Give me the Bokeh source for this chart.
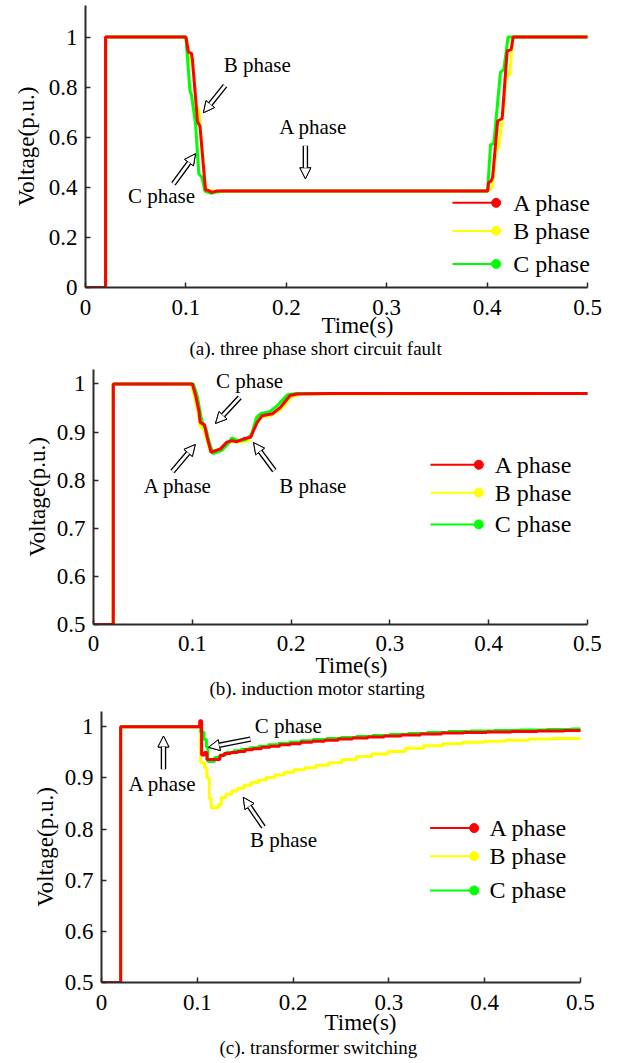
from bokeh.plotting import figure
from bokeh.layouts import column, row
from bokeh.models import Label, Arrow, NormalHead, FixedTicker, Range1d, Title, Spacer
from bokeh.embed import file_html
from bokeh.resources import INLINE

# ---------------- data ----------------
phase_names = ["A phase", "B phase", "C phase"]
x_ticks = [0, 0.1, 0.2, 0.3, 0.4, 0.5]
x_tick_labels = ["0", "0.1", "0.2", "0.3", "0.4", "0.5"]
ya_ticks = [0, 0.2, 0.4, 0.6, 0.8, 1.0]
ya_tick_labels = ["0", "0.2", "0.4", "0.6", "0.8", "1"]
ybc_ticks = [0.5, 0.6, 0.7, 0.8, 0.9, 1.0]
ybc_tick_labels = ["0.5", "0.6", "0.7", "0.8", "0.9", "1"]
captions = ["(a). three phase short circuit fault",
            "(b). induction motor starting",
            "(c). transformer switching"]
x_title = "Time(s)"
y_title = "Voltage(p.u.)"

# (a) three phase short circuit fault
ta_A = [0, 0.02, 0.02, 0.1, 0.1025, 0.1055, 0.1065, 0.1115, 0.1125, 0.114, 0.1195, 0.122, 0.126, 0.13, 0.14,
        0.4005, 0.4015, 0.404, 0.4055, 0.4105, 0.415, 0.42, 0.424, 0.426, 0.5]
va_A = [0, 0, 1, 1, 0.94, 0.935, 0.91, 0.665, 0.655, 0.645, 0.39, 0.388, 0.38, 0.385, 0.385,
        0.385, 0.42, 0.425, 0.44, 0.665, 0.675, 0.945, 0.95, 1.0, 1.0]
ta_B = [0, 0.02, 0.02, 0.1, 0.1015, 0.104, 0.107, 0.1105, 0.113, 0.1145, 0.12, 0.125, 0.13, 0.14,
        0.4005, 0.405, 0.409, 0.4115, 0.416, 0.419, 0.4225, 0.4255, 0.5]
va_B = [0, 0, 1, 1, 0.97, 0.92, 0.88, 0.73, 0.70, 0.63, 0.38, 0.39, 0.38, 0.385,
        0.385, 0.40, 0.55, 0.56, 0.70, 0.84, 0.85, 1.0, 1.0]
ta_C = [0, 0.02, 0.02, 0.1, 0.1013, 0.104, 0.1055, 0.1096, 0.1129, 0.116, 0.119, 0.125, 0.135,
        0.4005, 0.4034, 0.4067, 0.4133, 0.4166, 0.4209, 0.5]
va_C = [0, 0, 1, 1, 0.93, 0.786, 0.77, 0.653, 0.453, 0.44, 0.385, 0.376, 0.385,
        0.385, 0.57, 0.575, 0.86, 0.87, 1.0, 1.0]

# (b) induction motor starting
tb_A = [0, 0.02, 0.02, 0.1, 0.103, 0.1066, 0.108, 0.1124, 0.115, 0.119, 0.1285, 0.135, 0.14, 0.145,
        0.152, 0.159, 0.1657, 0.1707, 0.181, 0.189, 0.199, 0.206, 0.24, 0.5]
vb_A = [0.5, 0.5, 1, 1, 0.979, 0.945, 0.92, 0.915, 0.889, 0.858, 0.865, 0.879, 0.882, 0.88,
        0.886, 0.889, 0.92, 0.934, 0.938, 0.951, 0.976, 0.979, 0.98, 0.98]
tb_B = [0, 0.02, 0.02, 0.099, 0.102, 0.106, 0.108, 0.112, 0.118, 0.127, 0.134, 0.14, 0.15, 0.157,
        0.162, 0.168, 0.18, 0.19, 0.2, 0.21, 0.5]
vb_B = [0.5, 0.5, 1, 1, 0.975, 0.94, 0.912, 0.905, 0.86, 0.862, 0.875, 0.88, 0.88, 0.882,
        0.905, 0.93, 0.935, 0.948, 0.973, 0.979, 0.98]
tb_C = [0, 0.02, 0.02, 0.101, 0.105, 0.109, 0.111, 0.114, 0.117, 0.121, 0.13, 0.136, 0.14, 0.146,
        0.154, 0.16, 0.165, 0.169, 0.178, 0.186, 0.196, 0.205, 0.5]
vb_C = [0.5, 0.5, 1, 1, 0.975, 0.93, 0.915, 0.905, 0.88, 0.855, 0.862, 0.875, 0.888, 0.882,
        0.884, 0.895, 0.93, 0.938, 0.942, 0.955, 0.977, 0.98, 0.98]

# (c) transformer switching (sampled, drawn as steps)
tc_A = [0, 0.02, 0.1025, 0.1045, 0.1075, 0.110, 0.1235, 0.128, 0.135, 0.142, 0.150, 0.158, 0.167,
        0.176, 0.186, 0.197, 0.208, 0.220, 0.233, 0.247, 0.262, 0.278, 0.295, 0.313, 0.333, 0.355,
        0.378, 0.402, 0.428, 0.455, 0.483, 0.5]
vc_A = [0.5, 1.0, 1.012, 0.945, 0.950, 0.936, 0.944, 0.948, 0.950, 0.952, 0.955, 0.957, 0.960,
        0.962, 0.965, 0.967, 0.970, 0.972, 0.974, 0.976, 0.978, 0.980, 0.982, 0.984, 0.986, 0.988,
        0.989, 0.990, 0.991, 0.992, 0.993, 0.993]
tc_B = [0, 0.02, 0.1035, 0.1075, 0.110, 0.1125, 0.1145, 0.122, 0.125, 0.130, 0.136, 0.142, 0.149,
        0.156, 0.164, 0.172, 0.181, 0.191, 0.201, 0.212, 0.224, 0.237, 0.251, 0.266, 0.282, 0.299,
        0.317, 0.336, 0.356, 0.377, 0.399, 0.422, 0.446, 0.471, 0.5]
vc_B = [0.5, 1.0, 0.93, 0.92, 0.90, 0.86, 0.842, 0.848, 0.862, 0.868, 0.875, 0.880, 0.886,
        0.891, 0.896, 0.901, 0.906, 0.911, 0.916, 0.920, 0.925, 0.930, 0.936, 0.942, 0.947, 0.952,
        0.958, 0.963, 0.967, 0.970, 0.972, 0.974, 0.976, 0.977, 0.977]
tc_C = [0, 0.02, 0.1035, 0.107, 0.1095, 0.111, 0.118, 0.124, 0.13, 0.138, 0.146, 0.155, 0.164,
        0.174, 0.185, 0.196, 0.208, 0.221, 0.235, 0.25, 0.266, 0.283, 0.301, 0.32, 0.34, 0.362,
        0.385, 0.41, 0.437, 0.465, 0.49, 0.5]
vc_C = [0.5, 1.0, 0.99, 0.975, 0.96, 0.932, 0.94, 0.945, 0.95, 0.953, 0.956, 0.959, 0.962,
        0.965, 0.968, 0.970, 0.973, 0.975, 0.977, 0.979, 0.981, 0.983, 0.985, 0.987, 0.989, 0.991,
        0.992, 0.993, 0.994, 0.995, 0.996, 0.996]

# ---------------- styling / placement ----------------
FONT = "'Liberation Serif'"
COLORS = {"A phase": "#ff0000", "B phase": "#ffff00", "C phase": "#00ff00"}
AXIS_COLOR = "#2b2b2b"
X_DATA_END = 0.5

# in-plot annotations: (text, text_x, text_y, arrow_x0, arrow_y0, arrow_x1, arrow_y1)
ann_a = [("B phase", 0.171, 0.89, 0.139, 0.806, 0.1175, 0.698),
         ("C phase", 0.0757, 0.366, 0.0876, 0.414, 0.1096, 0.534),
         ("A phase", 0.227, 0.642, 0.219, 0.566, 0.219, 0.434)]
ann_b = [("C phase", 0.158, 1.007, 0.148, 0.972, 0.1235, 0.918),
         ("A phase", 0.0855, 0.787, 0.080, 0.818, 0.103, 0.874),
         ("B phase", 0.222, 0.787, 0.183, 0.82, 0.162, 0.878)]
ann_c = [("C phase", 0.195, 1.001, 0.1555, 0.976, 0.1117, 0.960),
         ("A phase", 0.0637, 0.888, 0.0647, 0.917, 0.0647, 0.982),
         ("B phase", 0.19, 0.778, 0.169, 0.804, 0.148, 0.862)]


def label(p, x, y, text, size, align="center"):
    p.add_layout(Label(x=x, y=y, text=text, text_font=FONT, text_font_size=size,
                       text_align=align, text_baseline="middle", text_color="black"))


def below_title(p, text, size, offset, standoff):
    p.add_layout(Title(text=text, align="left", offset=offset, standoff=standoff,
                       vertical_align="middle",
                       text_font=FONT, text_font_size=size, text_font_style="normal",
                       text_color="black"), "below")


def hollow_arrow(p, x0, y0, x1, y1):
    for w, c in ((5.5, "black"), (2.8, "white")):
        p.add_layout(Arrow(end=NormalHead(size=11, fill_color="white", line_color="black",
                                          line_width=1),
                           x_start=x0, y_start=y0, x_end=x1, y_end=y1,
                           line_width=w, line_color=c))


def make_panel(frame_w, frame_h, top, bottom, x_end, y_rng, yticks, ylabels,
               ylab_standoff, xtick_standoff):
    p = figure(frame_width=frame_w, frame_height=frame_h,
               min_border_left=85, min_border_right=0,
               min_border_top=top, min_border_bottom=bottom,
               x_range=Range1d(0, x_end), y_range=Range1d(*y_rng),
               output_backend="svg", toolbar_location=None)
    p.outline_line_color = None
    p.background_fill_color = "white"
    p.border_fill_color = "white"
    p.xgrid.visible = False
    p.ygrid.visible = False
    p.xaxis.ticker = FixedTicker(ticks=x_ticks)
    p.xaxis.major_label_overrides = dict(zip(x_ticks, x_tick_labels))
    p.xaxis.bounds = (0, X_DATA_END)
    p.yaxis.ticker = FixedTicker(ticks=yticks)
    p.yaxis.major_label_overrides = dict(zip(yticks, ylabels))
    for ax in (p.xaxis, p.yaxis):
        ax.axis_line_width = 2
        ax.axis_line_color = AXIS_COLOR
        ax.major_tick_line_color = AXIS_COLOR
        ax.major_tick_line_width = 1.5
        ax.major_tick_in = 5
        ax.major_tick_out = 0
        ax.minor_tick_line_color = None
        ax.major_label_text_font = FONT
        ax.major_label_text_font_size = "23px"
        ax.major_label_text_color = "black"
    p.xaxis.major_label_standoff = xtick_standoff
    p.yaxis.major_label_standoff = 8
    p.yaxis.axis_label = y_title
    p.yaxis.axis_label_text_font = FONT
    p.yaxis.axis_label_text_font_size = "23px"
    p.yaxis.axis_label_text_font_style = "normal"
    p.yaxis.axis_label_text_color = "black"
    p.yaxis.axis_label_standoff = ylab_standoff
    return p


def draw_series(p, series, step=False):
    for name in ["B phase", "C phase", "A phase"]:
        t, v = series[name]
        if step:
            p.step(t, v, mode="after", line_color=COLORS[name], line_width=3)
        else:
            p.line(t, v, line_color=COLORS[name], line_width=3)


def draw_legend(p, x0, x1, xt, rows):
    for name, y in zip(phase_names, rows):
        p.segment(x0=[x0], y0=[y], x1=[x1], y1=[y], line_color=COLORS[name], line_width=2)
        p.scatter([x1], [y], size=9, fill_color=COLORS[name], line_color=COLORS[name])
        label(p, xt, y, name, "24px", align="left")


# ---------------- panel (a) ----------------
pa = make_panel(539, 282, 5, 75, 0.53685, (0, 1.126), ya_ticks, ya_tick_labels, 7, 12)
draw_series(pa, {"A phase": (ta_A, va_A), "B phase": (ta_B, va_B), "C phase": (ta_C, va_C)})
for txt, tx, ty, ax0, ay0, ax1, ay1 in ann_a:
    label(pa, tx, ty, txt, "21px")
    hollow_arrow(pa, ax0, ay0, ax1, ay1)
draw_legend(pa, 0.3655, 0.409, 0.426, [0.338, 0.226, 0.094])
below_title(pa, x_title, "23px", 236, -11)
below_title(pa, captions[0], "19px", 104, 6)

# ---------------- panel (b) ----------------
pb = make_panel(531, 255, 7, 76, 0.53745, (0.5, 1.03), ybc_ticks, ybc_tick_labels, 4, 11)
draw_series(pb, {"A phase": (tb_A, vb_A), "B phase": (tb_B, vb_B), "C phase": (tb_C, vb_C)})
for txt, tx, ty, ax0, ay0, ax1, ay1 in ann_b:
    label(pb, tx, ty, txt, "21px")
    hollow_arrow(pb, ax0, ay0, ax1, ay1)
draw_legend(pb, 0.341, 0.39, 0.406, [0.832, 0.774, 0.708])
below_title(pb, x_title, "23px", 222, -4)
below_title(pb, captions[1], "19px", 116, 0)

# ---------------- panel (c) ----------------
pc = make_panel(523, 271, 11, 81, 0.54593, (0.5, 1.03), ybc_ticks, ybc_tick_labels, 4, 12)
draw_series(pc, {"A phase": (tc_A, vc_A), "B phase": (tc_B, vc_B), "C phase": (tc_C, vc_C)}, step=True)
for txt, tx, ty, ax0, ay0, ax1, ay1 in ann_c:
    label(pc, tx, ty, txt, "21px")
    hollow_arrow(pc, ax0, ay0, ax1, ay1)
draw_legend(pc, 0.343, 0.389, 0.405, [0.802, 0.747, 0.680])
below_title(pc, x_title, "23px", 223, -8)
below_title(pc, captions[2], "19px", 118, 9)

layout = column(row(pa), row(Spacer(width=8), pb), row(Spacer(width=16), pc), spacing=0)
open("out.html", "w").write(file_html(layout, INLINE))
